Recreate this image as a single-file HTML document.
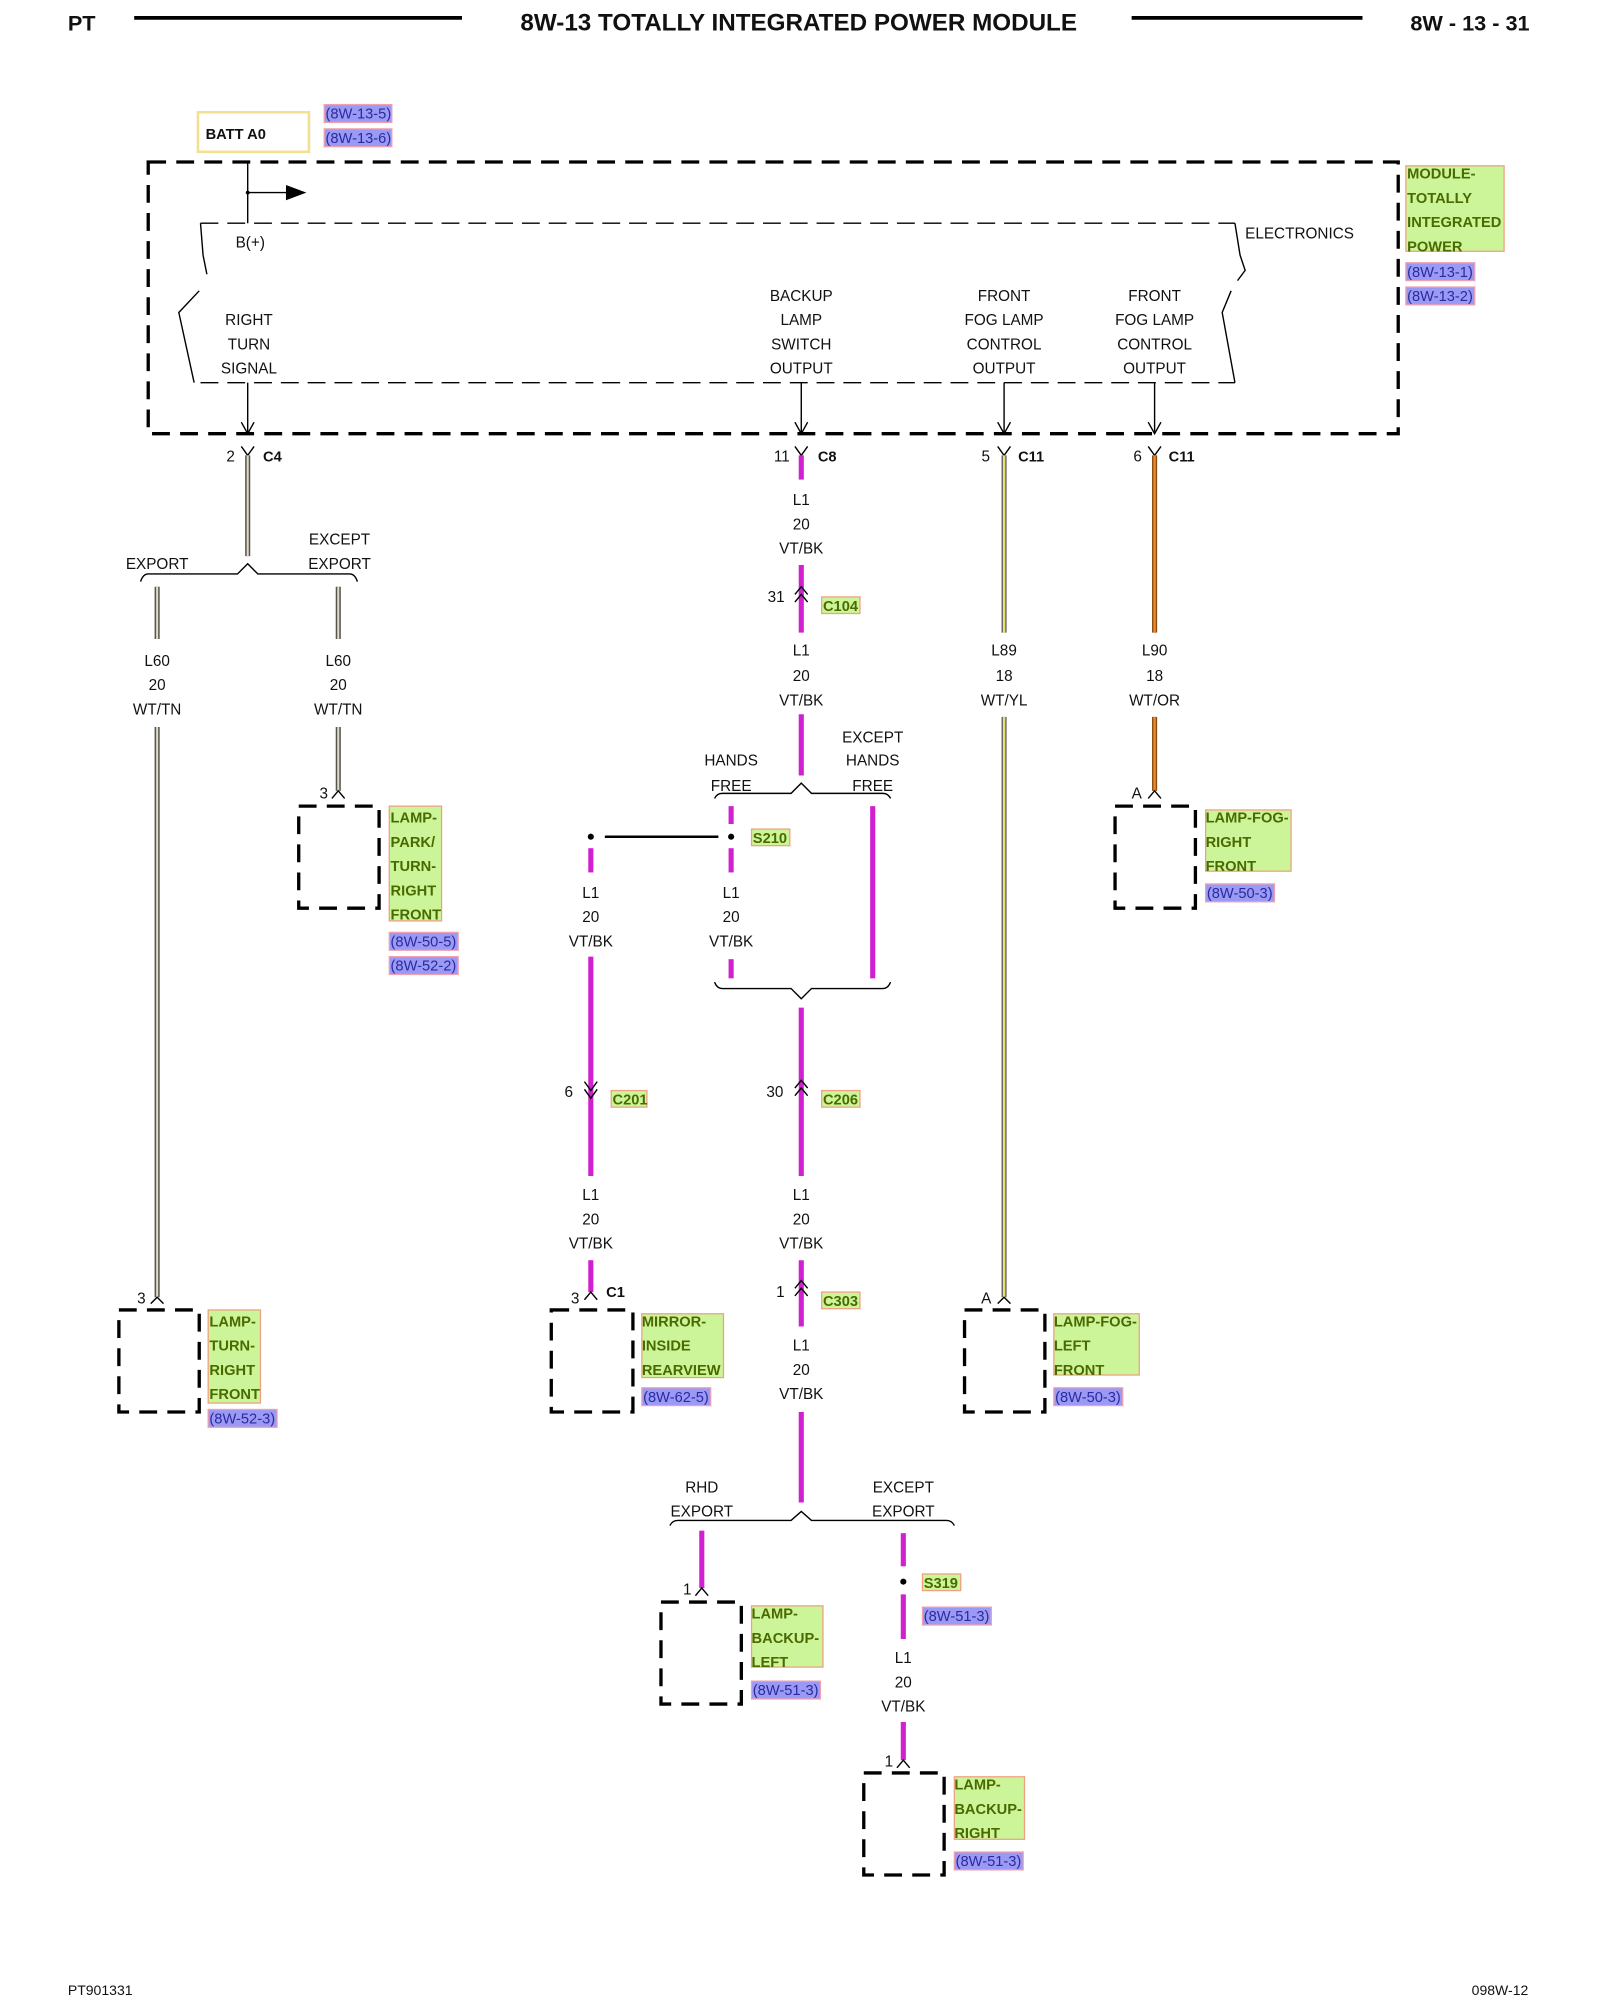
<!DOCTYPE html>
<html><head><meta charset="utf-8"><style>
html,body{margin:0;padding:0;background:#fff}
svg{display:block}
text{font-family:"Liberation Sans",Arial,sans-serif;fill:#111}
.t{font-size:12px;text-anchor:middle}
.l{font-size:12px}
.b{font-size:11.5px;font-weight:bold}
.g{font-size:11.5px;font-weight:bold;fill:#4a6a00}
.r{font-size:11.5px;fill:#2a2aa0}
.dash{fill:none;stroke:#000;stroke-width:2.6;stroke-dasharray:14 8}
.thin{fill:none;stroke:#000;stroke-width:1.1}
.tdash{fill:none;stroke:#000;stroke-width:1.1;stroke-dasharray:14 7}
</style></head><body>
<svg width="1600" height="2000" viewBox="0 0 1254 1568" xmlns="http://www.w3.org/2000/svg">
<!-- header -->
<text x="53" y="24" style="font-size:17px;font-weight:bold">PT</text>
<line x1="105" y1="14" x2="362" y2="14" stroke="#000" stroke-width="3"/>
<text x="626" y="24" style="font-size:19px;font-weight:bold;text-anchor:middle">8W-13 TOTALLY INTEGRATED POWER MODULE</text>
<line x1="887" y1="14" x2="1068" y2="14" stroke="#000" stroke-width="3"/>
<text x="1199" y="24" style="font-size:17px;font-weight:bold;text-anchor:end">8W - 13 - 31</text>

<!-- BATT A0 -->
<rect x="155" y="88" width="87" height="31" fill="#fff" stroke="#f3df90" stroke-width="2"/>
<text x="161" y="109" class="b">BATT A0</text>
<rect x="254" y="82" width="53" height="14" fill="#9a9af5" stroke="#f0a0b0"/>
<text x="255" y="93" class="r">(8W-13-5)</text>
<rect x="254" y="101" width="53" height="14" fill="#9a9af5" stroke="#f0a0b0"/>
<text x="255" y="112" class="r">(8W-13-6)</text>

<!-- outer module box -->
<rect x="116" y="127" width="980" height="213" class="dash"/>
<line x1="194" y1="127" x2="194" y2="175" class="thin"/>
<line x1="194" y1="151" x2="226" y2="151" class="thin"/>
<polygon points="224,145 240,151 224,157" fill="#000"/>
<circle cx="194" cy="151" r="1.5"/>
<!-- inner electronics -->
<line x1="157" y1="175" x2="968" y2="175" class="tdash"/>
<line x1="157" y1="300" x2="968" y2="300" class="tdash"/>
<polyline points="157,175 159,200 162,215" class="thin"/>
<polyline points="156,228 140,245 152,300" class="thin"/>
<polyline points="968,175 972,200 976,212 970,220" class="thin"/>
<polyline points="965,228 958,245 968,300" class="thin"/>
<text x="976" y="187" class="l">ELECTRONICS</text>
<text x="196" y="194" class="t">B(+)</text>
<text x="195" y="255" class="t">RIGHT</text><text x="195" y="274" class="t">TURN</text><text x="195" y="293" class="t">SIGNAL</text>
<text x="628" y="236" class="t">BACKUP</text><text x="628" y="255" class="t">LAMP</text><text x="628" y="274" class="t">SWITCH</text><text x="628" y="293" class="t">OUTPUT</text>
<text x="787" y="236" class="t">FRONT</text><text x="787" y="255" class="t">FOG LAMP</text><text x="787" y="274" class="t">CONTROL</text><text x="787" y="293" class="t">OUTPUT</text>
<text x="905" y="236" class="t">FRONT</text><text x="905" y="255" class="t">FOG LAMP</text><text x="905" y="274" class="t">CONTROL</text><text x="905" y="293" class="t">OUTPUT</text>
<!-- output arrows -->
<g class="thin">
<line x1="194" y1="300" x2="194" y2="340"/><polyline points="189,331 194,340 199,331"/>
<line x1="628" y1="300" x2="628" y2="340"/><polyline points="623,331 628,340 633,331"/>
<line x1="787" y1="300" x2="787" y2="340"/><polyline points="782,331 787,340 792,331"/>
<line x1="905" y1="300" x2="905" y2="340"/><polyline points="900,331 905,340 910,331"/>
</g>
<!-- module label -->
<rect x="1102" y="130" width="77" height="67" fill="#ccf59a" stroke="#f0a080"/>
<text x="1103" y="140" class="g">MODULE-</text><text x="1103" y="159" class="g">TOTALLY</text><text x="1103" y="178" class="g">INTEGRATED</text><text x="1103" y="197" class="g">POWER</text>
<rect x="1102" y="206" width="54" height="14" fill="#9a9af5" stroke="#f0a0b0"/><text x="1103" y="217" class="r">(8W-13-1)</text>
<rect x="1102" y="225" width="54" height="14" fill="#9a9af5" stroke="#f0a0b0"/><text x="1103" y="236" class="r">(8W-13-2)</text>

<!-- connectors at top (Y shapes) -->
<g class="thin">
<polyline points="189,350 194,357 199,350"/>
<polyline points="623,350 628,357 633,350"/>
<polyline points="782,350 787,357 792,350"/>
<polyline points="900,350 905,357 910,350"/>
</g>
<text x="184" y="362" class="l" text-anchor="end">2</text><text x="206" y="362" class="b">C4</text>
<text x="619" y="362" class="l" text-anchor="end">11</text><text x="641" y="362" class="b">C8</text>
<text x="776" y="362" class="l" text-anchor="end">5</text><text x="798" y="362" class="b">C11</text>
<text x="895" y="362" class="l" text-anchor="end">6</text><text x="916" y="362" class="b">C11</text>

<!-- tan wires -->
<g>
<g stroke="#555" stroke-width="4"><line x1="194" y1="357" x2="194" y2="436"/><line x1="123" y1="460" x2="123" y2="501"/><line x1="265" y1="460" x2="265" y2="501"/><line x1="123" y1="570" x2="123" y2="1017"/><line x1="265" y1="570" x2="265" y2="620"/></g>
<g stroke="#e4dcc0" stroke-width="1.6"><line x1="194" y1="357" x2="194" y2="436"/><line x1="123" y1="460" x2="123" y2="501"/><line x1="265" y1="460" x2="265" y2="501"/><line x1="123" y1="570" x2="123" y2="1017"/><line x1="265" y1="570" x2="265" y2="620"/></g>
</g>
<!-- yellow -->
<g stroke="#666" stroke-width="4"><line x1="787" y1="357" x2="787" y2="496"/><line x1="787" y1="562" x2="787" y2="1017"/></g>
<g stroke="#e8e070" stroke-width="1.8"><line x1="787" y1="357" x2="787" y2="496"/><line x1="787" y1="562" x2="787" y2="1017"/></g>
<!-- orange -->
<g stroke="#8a4a10" stroke-width="4"><line x1="905" y1="357" x2="905" y2="496"/><line x1="905" y1="562" x2="905" y2="620"/></g>
<g stroke="#f08a30" stroke-width="1.8"><line x1="905" y1="357" x2="905" y2="496"/><line x1="905" y1="562" x2="905" y2="620"/></g>

<!-- magenta wires -->
<g stroke="#d020d0" stroke-width="4">
<line x1="628" y1="357" x2="628" y2="376"/>
<line x1="628" y1="443" x2="628" y2="496"/>
<line x1="628" y1="560" x2="628" y2="608"/>
<line x1="573" y1="632" x2="573" y2="646"/>
<line x1="573" y1="665" x2="573" y2="684"/>
<line x1="463" y1="665" x2="463" y2="684"/>
<line x1="573" y1="752" x2="573" y2="767"/>
<line x1="684" y1="632" x2="684" y2="767"/>
<line x1="463" y1="750" x2="463" y2="922"/>
<line x1="628" y1="790" x2="628" y2="922"/>
<line x1="463" y1="988" x2="463" y2="1013"/>
<line x1="628" y1="988" x2="628" y2="1040"/>
<line x1="628" y1="1107" x2="628" y2="1178"/>
<line x1="550" y1="1200" x2="550" y2="1245"/>
<line x1="708" y1="1202" x2="708" y2="1228"/>
<line x1="708" y1="1250" x2="708" y2="1285"/>
<line x1="708" y1="1350" x2="708" y2="1380"/>
</g>

<!-- wire labels -->
<g class="t">
<text x="628" y="396">L1</text><text x="628" y="415">20</text><text x="628" y="434">VT/BK</text>
<text x="628" y="514">L1</text><text x="628" y="534">20</text><text x="628" y="553">VT/BK</text>
<text x="123" y="522">L60</text><text x="123" y="541">20</text><text x="123" y="560">WT/TN</text>
<text x="265" y="522">L60</text><text x="265" y="541">20</text><text x="265" y="560">WT/TN</text>
<text x="787" y="514">L89</text><text x="787" y="534">18</text><text x="787" y="553">WT/YL</text>
<text x="905" y="514">L90</text><text x="905" y="534">18</text><text x="905" y="553">WT/OR</text>
<text x="463" y="704">L1</text><text x="463" y="723">20</text><text x="463" y="742">VT/BK</text>
<text x="573" y="704">L1</text><text x="573" y="723">20</text><text x="573" y="742">VT/BK</text>
<text x="463" y="941">L1</text><text x="463" y="960">20</text><text x="463" y="979">VT/BK</text>
<text x="628" y="941">L1</text><text x="628" y="960">20</text><text x="628" y="979">VT/BK</text>
<text x="628" y="1059">L1</text><text x="628" y="1078">20</text><text x="628" y="1097">VT/BK</text>
<text x="708" y="1304">L1</text><text x="708" y="1323">20</text><text x="708" y="1342">VT/BK</text>
<text x="123" y="446">EXPORT</text>
<text x="266" y="427">EXCEPT</text><text x="266" y="446">EXPORT</text>
<text x="573" y="600">HANDS</text><text x="573" y="620">FREE</text>
<text x="684" y="582">EXCEPT</text><text x="684" y="600">HANDS</text><text x="684" y="620">FREE</text>
<text x="550" y="1170">RHD</text><text x="550" y="1189">EXPORT</text>
<text x="708" y="1170">EXCEPT</text><text x="708" y="1189">EXPORT</text>
</g>

<!-- braces -->
<g class="thin">
<path d="M110,456 Q112,450 116,450 L186,450 L194,442 L202,450 L274,450 Q278,450 280,456"/>
<path d="M560,626 Q562,622 566,622 L620,622 L628,614 L636,622 L692,622 Q696,622 698,626"/>
<path d="M560,770 Q562,775 566,775 L620,775 L628,783 L636,775 L692,775 Q696,775 698,770"/>
<path d="M525,1196 Q527,1192 531,1192 L620,1192 L628,1185 L636,1192 L742,1192 Q746,1192 748,1196"/>
</g>

<!-- splices -->
<circle cx="463" cy="656" r="2.4"/><circle cx="573" cy="656" r="2.4"/>
<line x1="474" y1="656" x2="563" y2="656" stroke="#000" stroke-width="2"/>
<rect x="589" y="650" width="30" height="13" fill="#ccf59a" stroke="#f0a080"/><text x="590" y="661" class="g">S210</text>
<circle cx="708" cy="1240" r="2.4"/>
<rect x="723" y="1234" width="30" height="13" fill="#ccf59a" stroke="#f0a080"/><text x="724" y="1245" class="g">S319</text>
<rect x="723" y="1260" width="54" height="14" fill="#9a9af5" stroke="#f0a0b0"/><text x="724" y="1271" class="r">(8W-51-3)</text>

<!-- inline connectors -->
<g class="thin">
<polyline points="623,466 628,460 633,466"/><polyline points="623,472 628,466 633,472"/>
<polyline points="458,848 463,855 468,848"/><polyline points="458,854 463,861 468,854"/>
<polyline points="623,853 628,847 633,853"/><polyline points="623,859 628,853 633,859"/>
<polyline points="623,1010 628,1004 633,1010"/><polyline points="623,1016 628,1010 633,1016"/>
</g>
<text x="615" y="472" class="l" text-anchor="end">31</text>
<rect x="644" y="468" width="30" height="13" fill="#ccf59a" stroke="#f0a080"/><text x="645" y="479" class="g">C104</text>
<text x="449" y="860" class="l" text-anchor="end">6</text>
<rect x="479" y="855" width="28" height="13" fill="#ccf59a" stroke="#f0a080"/><text x="480" y="866" class="g">C201</text>
<text x="614" y="860" class="l" text-anchor="end">30</text>
<rect x="644" y="855" width="30" height="13" fill="#ccf59a" stroke="#f0a080"/><text x="645" y="866" class="g">C206</text>
<text x="615" y="1017" class="l" text-anchor="end">1</text>
<rect x="644" y="1013" width="30" height="13" fill="#ccf59a" stroke="#f0a080"/><text x="645" y="1024" class="g">C303</text>

<!-- component end connectors -->
<g class="thin">
<polyline points="118,1022 123,1017 128,1022"/>
<polyline points="260,626 265,620 270,626"/>
<polyline points="458,1019 463,1013 468,1019"/>
<polyline points="782,1022 787,1017 792,1022"/>
<polyline points="900,626 905,620 910,626"/>
<polyline points="545,1251 550,1245 555,1251"/>
<polyline points="703,1386 708,1380 713,1386"/>
</g>
<text x="114" y="1022" class="l" text-anchor="end">3</text>
<text x="257" y="626" class="l" text-anchor="end">3</text>
<text x="454" y="1022" class="l" text-anchor="end">3</text><text x="475" y="1017" class="b">C1</text>
<text x="777" y="1022" class="l" text-anchor="end">A</text>
<text x="895" y="626" class="l" text-anchor="end">A</text>
<text x="542" y="1250" class="l" text-anchor="end">1</text>
<text x="700" y="1385" class="l" text-anchor="end">1</text>

<!-- component boxes -->
<rect x="93" y="1027" width="63" height="80" class="dash"/>
<rect x="234" y="632" width="63" height="80" class="dash"/>
<rect x="432" y="1027" width="64" height="80" class="dash"/>
<rect x="756" y="1027" width="63" height="80" class="dash"/>
<rect x="874" y="632" width="63" height="80" class="dash"/>
<rect x="518" y="1256" width="63" height="80" class="dash"/>
<rect x="677" y="1390" width="63" height="80" class="dash"/>

<!-- component labels -->
<rect x="305" y="632" width="41" height="90" fill="#ccf59a" stroke="#f0a080"/>
<text x="306" y="645" class="g">LAMP-</text><text x="306" y="664" class="g">PARK/</text><text x="306" y="683" class="g">TURN-</text><text x="306" y="702" class="g">RIGHT</text><text x="306" y="721" class="g">FRONT</text>
<rect x="305" y="731" width="54" height="14" fill="#9a9af5" stroke="#f0a0b0"/><text x="306" y="742" class="r">(8W-50-5)</text>
<rect x="305" y="750" width="54" height="14" fill="#9a9af5" stroke="#f0a0b0"/><text x="306" y="761" class="r">(8W-52-2)</text>

<rect x="163" y="1027" width="41" height="73" fill="#ccf59a" stroke="#f0a080"/>
<text x="164" y="1040" class="g">LAMP-</text><text x="164" y="1059" class="g">TURN-</text><text x="164" y="1078" class="g">RIGHT</text><text x="164" y="1097" class="g">FRONT</text>
<rect x="163" y="1105" width="54" height="14" fill="#9a9af5" stroke="#f0a0b0"/><text x="164" y="1116" class="r">(8W-52-3)</text>

<rect x="503" y="1030" width="64" height="50" fill="#ccf59a" stroke="#f0a080"/>
<text x="503" y="1040" class="g">MIRROR-</text><text x="503" y="1059" class="g">INSIDE</text><text x="503" y="1078" class="g">REARVIEW</text>
<rect x="503" y="1088" width="54" height="14" fill="#9a9af5" stroke="#f0a0b0"/><text x="504" y="1099" class="r">(8W-62-5)</text>

<rect x="826" y="1030" width="67" height="48" fill="#ccf59a" stroke="#f0a080"/>
<text x="826" y="1040" class="g">LAMP-FOG-</text><text x="826" y="1059" class="g">LEFT</text><text x="826" y="1078" class="g">FRONT</text>
<rect x="826" y="1088" width="54" height="14" fill="#9a9af5" stroke="#f0a0b0"/><text x="827" y="1099" class="r">(8W-50-3)</text>

<rect x="945" y="635" width="67" height="48" fill="#ccf59a" stroke="#f0a080"/>
<text x="945" y="645" class="g">LAMP-FOG-</text><text x="945" y="664" class="g">RIGHT</text><text x="945" y="683" class="g">FRONT</text>
<rect x="945" y="693" width="54" height="14" fill="#9a9af5" stroke="#f0a0b0"/><text x="946" y="704" class="r">(8W-50-3)</text>

<rect x="589" y="1259" width="56" height="48" fill="#ccf59a" stroke="#f0a080"/>
<text x="589" y="1269" class="g">LAMP-</text><text x="589" y="1288" class="g">BACKUP-</text><text x="589" y="1307" class="g">LEFT</text>
<rect x="589" y="1318" width="54" height="14" fill="#9a9af5" stroke="#f0a0b0"/><text x="590" y="1329" class="r">(8W-51-3)</text>

<rect x="748" y="1393" width="55" height="49" fill="#ccf59a" stroke="#f0a080"/>
<text x="748" y="1403" class="g">LAMP-</text><text x="748" y="1422" class="g">BACKUP-</text><text x="748" y="1441" class="g">RIGHT</text>
<rect x="748" y="1452" width="54" height="14" fill="#9a9af5" stroke="#f0a0b0"/><text x="749" y="1463" class="r">(8W-51-3)</text>

<!-- footer -->
<text x="53" y="1564" style="font-size:11px">PT901331</text>
<text x="1198" y="1564" style="font-size:11px;text-anchor:end">098W-12</text>
</svg>
</body></html>
